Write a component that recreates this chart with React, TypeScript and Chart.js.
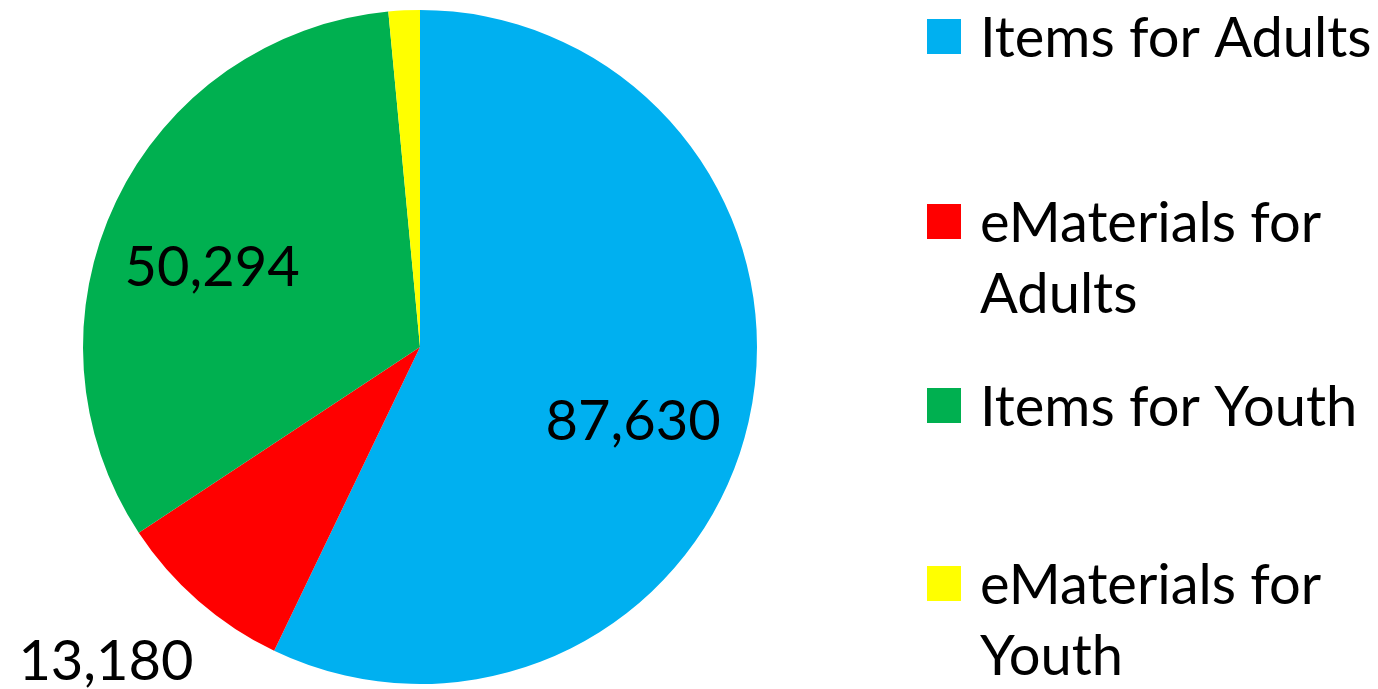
import React, { useEffect, useRef } from "react";
import { Chart, registerables } from "chart.js";

Chart.register(...registerables);

const categories = [
  "Items for Adults",
  "eMaterials for Adults",
  "Items for Youth",
  "eMaterials for Youth",
];
const values = [87630, 13180, 50294, 2300];
const valueLabels = ["87,630", "13,180", "50,294", ""];
const legendLines = [
  ["Items for Adults"],
  ["eMaterials for", "Adults"],
  ["Items for Youth"],
  ["eMaterials for", "Youth"],
];
const colors = ["#00B0F0", "#FF0000", "#00B050", "#FFFF00"];

// label placement: [radius factor, angle offset in degrees]
const labelPlacement: [number, number][] = [
  [0.67, 6.5],
  [1.32, 3.8],
  [0.66, -4.8],
  [0, 0],
];
const legendSquareTop = [19, 204, 388, 566];
const FONT = "Lato, 'Open Sans', sans-serif";

const labelsPlugin = {
  id: "customLabels",
  afterDraw(chart: any) {
    const ctx = chart.ctx;
    const meta = chart.getDatasetMeta(0);
    ctx.save();
    ctx.fillStyle = "#000";
    ctx.font = `56px ${FONT}`;
    ctx.textAlign = "center";
    ctx.textBaseline = "middle";
    meta.data.forEach((arc: any, i: number) => {
      const txt = valueLabels[i];
      if (!txt) return;
      const { x, y, startAngle, endAngle, outerRadius } = arc.getProps(
        ["x", "y", "startAngle", "endAngle", "outerRadius"],
        true
      );
      const [f, off] = labelPlacement[i];
      const mid = (startAngle + endAngle) / 2 + (off * Math.PI) / 180;
      const r = outerRadius * f;
      ctx.fillText(txt, x + Math.cos(mid) * r, y + Math.sin(mid) * r);
    });
    // legend
    ctx.textAlign = "left";
    ctx.textBaseline = "alphabetic";
    categories.forEach((_, i) => {
      const top = legendSquareTop[i];
      ctx.fillStyle = colors[i];
      ctx.fillRect(927, top, 34, 35);
      ctx.fillStyle = "#000";
      legendLines[i].forEach((line, j) => {
        ctx.fillText(line, 980, top + 38 + j * 71);
      });
    });
    ctx.restore();
  },
};

export default function App() {
  const ref = useRef<HTMLCanvasElement>(null);
  useEffect(() => {
    if (!ref.current) return;
    const chart = new Chart(ref.current, {
      type: "pie",
      data: {
        labels: categories,
        datasets: [
          {
            data: values,
            backgroundColor: colors,
            borderWidth: 0,
          },
        ],
      },
      options: {
        responsive: false,
        animation: false,
        layout: { padding: { left: 83, right: 621, top: 10, bottom: 5 } },
        plugins: {
          legend: { display: false },
          tooltip: { enabled: false },
        },
      },
      plugins: [labelsPlugin],
    });
    return () => chart.destroy();
  }, []);
  return (
    <div style={{ position: "fixed", left: 0, top: 0, width: 1378, height: 689, background: "#fff" }}>
      <canvas ref={ref} width={1378} height={689} />
    </div>
  );
}
